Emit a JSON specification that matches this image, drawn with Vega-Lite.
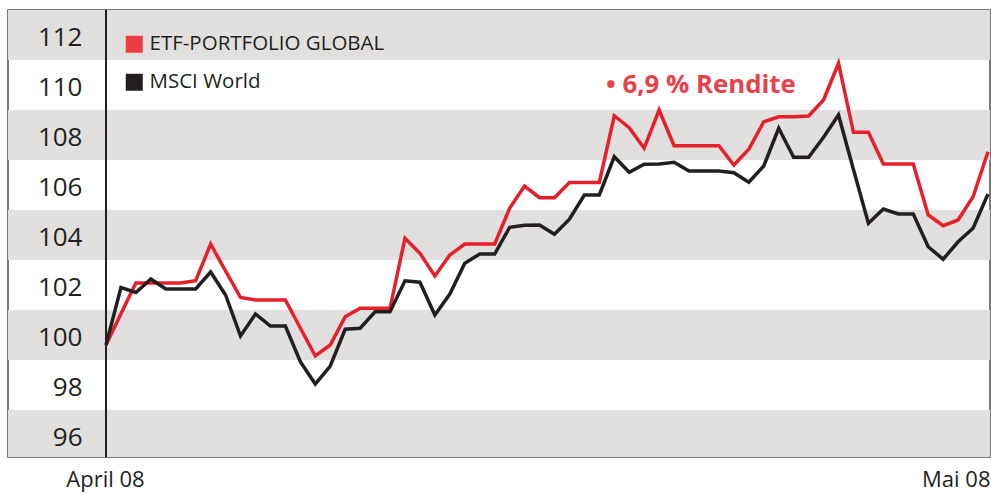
{
  "$schema": "https://vega.github.io/schema/vega-lite/v6.json",
  "width": 982,
  "height": 447,
  "autosize": {"type": "none"},
  "padding": {"left": 8, "top": 10, "right": 1, "bottom": 36},
  "background": "white",
  "config": {
    "view": {"stroke": "#4d4d4d", "strokeWidth": 1.5},
    "axisX": {"domain": false, "ticks": false, "grid": false, "labelFont": "Open Sans", "labelFontSize": 22, "labelColor": "#231f20", "labelPadding": 29, "labelBaseline": "alphabetic", "labelFlush": false, "labelOverlap": false, "labelBound": false, "title": null},
    "axisY": {"offset": -74, "domain": false, "ticks": false, "grid": false, "labelPadding": 0, "labelFont": "Open Sans", "labelFontSize": 26, "labelColor": "#231f20", "labelOffset": 2, "labelOverlap": false, "labelBound": false, "title": null}
  },
  "datasets": {
    "bands": [
      {"lo": 111, "hi": 113},
      {"lo": 107, "hi": 109},
      {"lo": 103, "hi": 105},
      {"lo": 99, "hi": 101},
      {"lo": 95.12, "hi": 97}
    ],
    "start": [{"i": 0}],
    "series": [
      {"s": "ETF-PORTFOLIO GLOBAL", "i": 0, "v": 99.6},
      {"s": "ETF-PORTFOLIO GLOBAL", "i": 1, "v": 100.85},
      {"s": "ETF-PORTFOLIO GLOBAL", "i": 2, "v": 102.08},
      {"s": "ETF-PORTFOLIO GLOBAL", "i": 3, "v": 102.08},
      {"s": "ETF-PORTFOLIO GLOBAL", "i": 4, "v": 102.08},
      {"s": "ETF-PORTFOLIO GLOBAL", "i": 5, "v": 102.08},
      {"s": "ETF-PORTFOLIO GLOBAL", "i": 6, "v": 102.17},
      {"s": "ETF-PORTFOLIO GLOBAL", "i": 7, "v": 103.64},
      {"s": "ETF-PORTFOLIO GLOBAL", "i": 8, "v": 102.56},
      {"s": "ETF-PORTFOLIO GLOBAL", "i": 9, "v": 101.5},
      {"s": "ETF-PORTFOLIO GLOBAL", "i": 10, "v": 101.4},
      {"s": "ETF-PORTFOLIO GLOBAL", "i": 11, "v": 101.4},
      {"s": "ETF-PORTFOLIO GLOBAL", "i": 12, "v": 101.4},
      {"s": "ETF-PORTFOLIO GLOBAL", "i": 13, "v": 100.28},
      {"s": "ETF-PORTFOLIO GLOBAL", "i": 14, "v": 99.16},
      {"s": "ETF-PORTFOLIO GLOBAL", "i": 15, "v": 99.6},
      {"s": "ETF-PORTFOLIO GLOBAL", "i": 16, "v": 100.73},
      {"s": "ETF-PORTFOLIO GLOBAL", "i": 17, "v": 101.07},
      {"s": "ETF-PORTFOLIO GLOBAL", "i": 18, "v": 101.07},
      {"s": "ETF-PORTFOLIO GLOBAL", "i": 19, "v": 101.07},
      {"s": "ETF-PORTFOLIO GLOBAL", "i": 20, "v": 103.87},
      {"s": "ETF-PORTFOLIO GLOBAL", "i": 21, "v": 103.27},
      {"s": "ETF-PORTFOLIO GLOBAL", "i": 22, "v": 102.36},
      {"s": "ETF-PORTFOLIO GLOBAL", "i": 23, "v": 103.2},
      {"s": "ETF-PORTFOLIO GLOBAL", "i": 24, "v": 103.64},
      {"s": "ETF-PORTFOLIO GLOBAL", "i": 25, "v": 103.64},
      {"s": "ETF-PORTFOLIO GLOBAL", "i": 26, "v": 103.64},
      {"s": "ETF-PORTFOLIO GLOBAL", "i": 27, "v": 105.07},
      {"s": "ETF-PORTFOLIO GLOBAL", "i": 28, "v": 105.96},
      {"s": "ETF-PORTFOLIO GLOBAL", "i": 29, "v": 105.49},
      {"s": "ETF-PORTFOLIO GLOBAL", "i": 30, "v": 105.49},
      {"s": "ETF-PORTFOLIO GLOBAL", "i": 31, "v": 106.1},
      {"s": "ETF-PORTFOLIO GLOBAL", "i": 32, "v": 106.1},
      {"s": "ETF-PORTFOLIO GLOBAL", "i": 33, "v": 106.1},
      {"s": "ETF-PORTFOLIO GLOBAL", "i": 34, "v": 108.77},
      {"s": "ETF-PORTFOLIO GLOBAL", "i": 35, "v": 108.29},
      {"s": "ETF-PORTFOLIO GLOBAL", "i": 36, "v": 107.47},
      {"s": "ETF-PORTFOLIO GLOBAL", "i": 37, "v": 109.0},
      {"s": "ETF-PORTFOLIO GLOBAL", "i": 38, "v": 107.57},
      {"s": "ETF-PORTFOLIO GLOBAL", "i": 39, "v": 107.57},
      {"s": "ETF-PORTFOLIO GLOBAL", "i": 40, "v": 107.57},
      {"s": "ETF-PORTFOLIO GLOBAL", "i": 41, "v": 107.57},
      {"s": "ETF-PORTFOLIO GLOBAL", "i": 42, "v": 106.8},
      {"s": "ETF-PORTFOLIO GLOBAL", "i": 43, "v": 107.43},
      {"s": "ETF-PORTFOLIO GLOBAL", "i": 44, "v": 108.53},
      {"s": "ETF-PORTFOLIO GLOBAL", "i": 45, "v": 108.73},
      {"s": "ETF-PORTFOLIO GLOBAL", "i": 46, "v": 108.73},
      {"s": "ETF-PORTFOLIO GLOBAL", "i": 47, "v": 108.76},
      {"s": "ETF-PORTFOLIO GLOBAL", "i": 48, "v": 109.4},
      {"s": "ETF-PORTFOLIO GLOBAL", "i": 49, "v": 110.87},
      {"s": "ETF-PORTFOLIO GLOBAL", "i": 50, "v": 108.11},
      {"s": "ETF-PORTFOLIO GLOBAL", "i": 51, "v": 108.11},
      {"s": "ETF-PORTFOLIO GLOBAL", "i": 52, "v": 106.84},
      {"s": "ETF-PORTFOLIO GLOBAL", "i": 53, "v": 106.84},
      {"s": "ETF-PORTFOLIO GLOBAL", "i": 54, "v": 106.84},
      {"s": "ETF-PORTFOLIO GLOBAL", "i": 55, "v": 104.8},
      {"s": "ETF-PORTFOLIO GLOBAL", "i": 56, "v": 104.37},
      {"s": "ETF-PORTFOLIO GLOBAL", "i": 57, "v": 104.6},
      {"s": "ETF-PORTFOLIO GLOBAL", "i": 58, "v": 105.53},
      {"s": "ETF-PORTFOLIO GLOBAL", "i": 59, "v": 107.33},
      {"s": "MSCI World", "i": 0, "v": 99.6},
      {"s": "MSCI World", "i": 1, "v": 101.9},
      {"s": "MSCI World", "i": 2, "v": 101.7},
      {"s": "MSCI World", "i": 3, "v": 102.24},
      {"s": "MSCI World", "i": 4, "v": 101.84},
      {"s": "MSCI World", "i": 5, "v": 101.84},
      {"s": "MSCI World", "i": 6, "v": 101.84},
      {"s": "MSCI World", "i": 7, "v": 102.52},
      {"s": "MSCI World", "i": 8, "v": 101.6},
      {"s": "MSCI World", "i": 9, "v": 99.96},
      {"s": "MSCI World", "i": 10, "v": 100.84},
      {"s": "MSCI World", "i": 11, "v": 100.36},
      {"s": "MSCI World", "i": 12, "v": 100.36},
      {"s": "MSCI World", "i": 13, "v": 98.93},
      {"s": "MSCI World", "i": 14, "v": 98.04},
      {"s": "MSCI World", "i": 15, "v": 98.76},
      {"s": "MSCI World", "i": 16, "v": 100.23},
      {"s": "MSCI World", "i": 17, "v": 100.27},
      {"s": "MSCI World", "i": 18, "v": 100.93},
      {"s": "MSCI World", "i": 19, "v": 100.93},
      {"s": "MSCI World", "i": 20, "v": 102.17},
      {"s": "MSCI World", "i": 21, "v": 102.11},
      {"s": "MSCI World", "i": 22, "v": 100.8},
      {"s": "MSCI World", "i": 23, "v": 101.64},
      {"s": "MSCI World", "i": 24, "v": 102.87},
      {"s": "MSCI World", "i": 25, "v": 103.24},
      {"s": "MSCI World", "i": 26, "v": 103.24},
      {"s": "MSCI World", "i": 27, "v": 104.31},
      {"s": "MSCI World", "i": 28, "v": 104.39},
      {"s": "MSCI World", "i": 29, "v": 104.4},
      {"s": "MSCI World", "i": 30, "v": 104.03},
      {"s": "MSCI World", "i": 31, "v": 104.63},
      {"s": "MSCI World", "i": 32, "v": 105.6},
      {"s": "MSCI World", "i": 33, "v": 105.6},
      {"s": "MSCI World", "i": 34, "v": 107.13},
      {"s": "MSCI World", "i": 35, "v": 106.51},
      {"s": "MSCI World", "i": 36, "v": 106.83},
      {"s": "MSCI World", "i": 37, "v": 106.84},
      {"s": "MSCI World", "i": 38, "v": 106.91},
      {"s": "MSCI World", "i": 39, "v": 106.56},
      {"s": "MSCI World", "i": 40, "v": 106.56},
      {"s": "MSCI World", "i": 41, "v": 106.56},
      {"s": "MSCI World", "i": 42, "v": 106.49},
      {"s": "MSCI World", "i": 43, "v": 106.11},
      {"s": "MSCI World", "i": 44, "v": 106.76},
      {"s": "MSCI World", "i": 45, "v": 108.27},
      {"s": "MSCI World", "i": 46, "v": 107.11},
      {"s": "MSCI World", "i": 47, "v": 107.11},
      {"s": "MSCI World", "i": 48, "v": 107.91},
      {"s": "MSCI World", "i": 49, "v": 108.8},
      {"s": "MSCI World", "i": 50, "v": 106.62},
      {"s": "MSCI World", "i": 51, "v": 104.47},
      {"s": "MSCI World", "i": 52, "v": 105.04},
      {"s": "MSCI World", "i": 53, "v": 104.84},
      {"s": "MSCI World", "i": 54, "v": 104.84},
      {"s": "MSCI World", "i": 55, "v": 103.53},
      {"s": "MSCI World", "i": 56, "v": 103.03},
      {"s": "MSCI World", "i": 57, "v": 103.73},
      {"s": "MSCI World", "i": 58, "v": 104.27},
      {"s": "MSCI World", "i": 59, "v": 105.64}
    ],
    "note": [
      {"t": "• 6,9 % Rendite", "i": 33.45, "v": 109.67}
    ]
  },
  "layer": [
    {
      "data": {"name": "bands"},
      "mark": {"type": "rect", "color": "#e1e0df"},
      "encoding": {
        "y": {"field": "lo", "type": "quantitative", "scale": {"domain": [95.12, 113], "nice": false, "zero": false},
          "axis": {"orient": "left", "zindex": 2, "values": [96, 98, 100, 102, 104, 106, 108, 110, 112], "labelOverlap": false}},
        "y2": {"field": "hi"}
      }
    },
    {
      "data": {"name": "start"},
      "mark": {"type": "rule", "color": "#231f20", "strokeWidth": 2},
      "encoding": {
        "x": {"field": "i", "type": "quantitative", "scale": {"domain": [-6.555, 59.134], "nice": false, "zero": false},
          "axis": {"orient": "bottom", "zindex": 2, "values": [0, 59], "labelExpr": "datum.value == 0 ? 'April 08' : 'Mai 08'", "labelOverlap": false,
            "labelAlign": {"condition": {"test": "datum.value == 0", "value": "center"}, "value": "right"},
            "labelOffset": {"condition": {"test": "datum.value == 0", "value": -1}, "value": 2}}}
      }
    },
    {
      "data": {"name": "series"},
      "mark": {"type": "line", "strokeWidth": 3.5, "strokeJoin": "miter"},
      "encoding": {
        "x": {"field": "i", "type": "quantitative", "scale": {"domain": [-6.555, 59.134], "nice": false, "zero": false},
          "axis": {"orient": "bottom", "zindex": 2, "values": [0, 59], "labelExpr": "datum.value == 0 ? 'April 08' : 'Mai 08'", "labelOverlap": false,
            "labelAlign": {"condition": {"test": "datum.value == 0", "value": "center"}, "value": "right"},
            "labelOffset": {"condition": {"test": "datum.value == 0", "value": -1}, "value": 2}}},
        "y": {"field": "v", "type": "quantitative", "scale": {"domain": [95.12, 113], "nice": false, "zero": false},
          "axis": {"orient": "left", "zindex": 2, "values": [96, 98, 100, 102, 104, 106, 108, 110, 112], "labelOverlap": false}},
        "color": {"field": "s", "type": "nominal",
          "scale": {"domain": ["ETF-PORTFOLIO GLOBAL", "MSCI World"], "range": ["#e6202a", "#231f20"]},
          "legend": {"orient": "none", "legendX": 116, "legendY": 24, "title": null, "symbolType": "square", "symbolSize": 289, "labelFont": "Open Sans", "labelFontSize": 20.5, "labelColor": "#231f20", "labelOffset": 5, "labelLimit": 500, "rowPadding": 17, "padding": 0, "symbolStrokeWidth": 0,
            "encode": {"symbols": {"update": {"fill": {"signal": "datum.value == 'ETF-PORTFOLIO GLOBAL' ? '#ec3d44' : '#231f20'"}, "fillOpacity": {"value": 1}, "opacity": {"value": 1}, "strokeWidth": {"value": 0}}}}}}
      }
    },
    {
      "data": {"name": "note"},
      "mark": {"type": "text", "align": "left", "baseline": "alphabetic", "font": "Open Sans", "fontWeight": "bold", "fontSize": 25.8, "color": "#e9414a"},
      "encoding": {
        "x": {"field": "i", "type": "quantitative", "scale": {"domain": [-6.555, 59.134], "nice": false, "zero": false},
          "axis": {"orient": "bottom", "zindex": 2, "values": [0, 59], "labelExpr": "datum.value == 0 ? 'April 08' : 'Mai 08'", "labelOverlap": false,
            "labelAlign": {"condition": {"test": "datum.value == 0", "value": "center"}, "value": "right"},
            "labelOffset": {"condition": {"test": "datum.value == 0", "value": -1}, "value": 2}}},
        "y": {"field": "v", "type": "quantitative", "scale": {"domain": [95.12, 113], "nice": false, "zero": false},
          "axis": {"orient": "left", "zindex": 2, "values": [96, 98, 100, 102, 104, 106, 108, 110, 112], "labelOverlap": false}},
        "text": {"field": "t"}
      }
    }
  ]
}
